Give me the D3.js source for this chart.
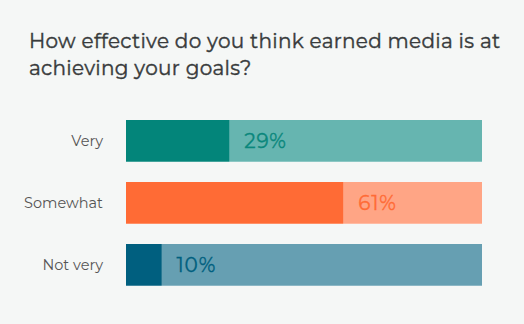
<!DOCTYPE html>
<html>
<head>
<meta charset="utf-8">
<script src="https://cdn.jsdelivr.net/npm/d3@7/dist/d3.min.js"></script>
<style>
  html, body { margin: 0; padding: 0; background: #f5f7f6; }
  svg { display: block; }
</style>
</head>
<body>
<script>
// Survey answers and their shares (%)
const categories = ["Very", "Somewhat", "Not very"];
const values = [29, 61, 10];
const darkColors = ["#03857a", "#ff6b35", "#005f7f"];
const lightColors = ["#66b5b0", "#ffa585", "#669fb2"];
const labelColors = ["#0a877c", "#ff6b35", "#005f7f"];
const titleLines = ["How effective do you think earned media is at", "achieving your goals?"];

const W = 524, H = 324;
const svg = d3.select("body").append("svg").attr("width", W).attr("height", H);
svg.append("rect").attr("width", W).attr("height", H).attr("fill", "#f5f7f6");

const font = "Montserrat, 'Open Sans', 'Noto Sans', sans-serif";

// Title (a hairline stroke gives a medium weight)
svg.append("g").selectAll("text").data(titleLines).join("text")
  .attr("x", 29)
  .attr("y", (d, i) => 48 + i * 27)
  .attr("font-family", font)
  .attr("font-size", 20)
  .attr("letter-spacing", 0.3)
  .attr("fill", "#383b3c")
  .attr("stroke", "#383b3c")
  .attr("stroke-width", 0.4)
  .text(d => d);

const x = d3.scaleLinear().domain([0, 100]).range([126, 482]);
const y = d3.scaleBand().domain(categories).range([110, 296])
  .paddingInner(20 / 62).paddingOuter(10 / 62);

const rows = svg.append("g").selectAll("g").data(categories).join("g");

// Full-width background track
rows.append("rect")
  .attr("x", x(0)).attr("y", d => y(d))
  .attr("width", x(100) - x(0)).attr("height", y.bandwidth())
  .attr("fill", (d, i) => lightColors[i]);

// Value bar
rows.append("rect")
  .attr("x", x(0)).attr("y", d => y(d))
  .attr("width", (d, i) => x(values[i]) - x(0)).attr("height", y.bandwidth())
  .attr("fill", (d, i) => darkColors[i]);

// Soft lower edge
rows.append("rect")
  .attr("x", x(0)).attr("y", d => y(d) + y.bandwidth() - 1)
  .attr("width", x(100) - x(0)).attr("height", 1)
  .attr("fill", "#fff").attr("opacity", 0.25);

// Category labels
rows.append("text")
  .attr("x", 103).attr("y", d => y(d) + y.bandwidth() / 2)
  .attr("dy", "0.35em").attr("text-anchor", "end")
  .attr("font-family", font).attr("font-size", 14.5)
  .attr("fill", "#555")
  .text(d => d);

// Value labels
rows.append("text")
  .attr("x", (d, i) => x(values[i]) + 15).attr("y", d => y(d) + y.bandwidth() / 2)
  .attr("dy", "0.36em")
  .attr("font-family", font).attr("font-size", 20)
  .attr("letter-spacing", 0.8)
  .attr("fill", (d, i) => labelColors[i])
  .attr("stroke", (d, i) => labelColors[i])
  .attr("stroke-width", 0.35)
  .text((d, i) => values[i] + "%");
</script>
</body>
</html>
